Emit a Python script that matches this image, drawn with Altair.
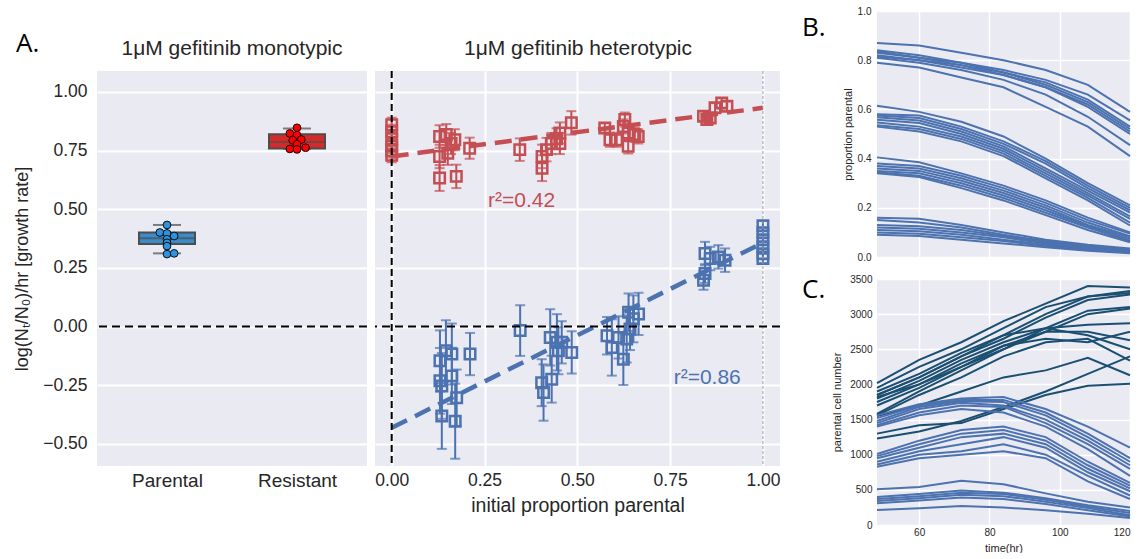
import altair as alt
import pandas as pd

# ---------------- data ----------------
categories = ["Parental", "Resistant"]
mono_q1 = [0.352, 0.759]
mono_q3 = [0.401, 0.820]
mono_median = [0.376, 0.787]
mono_whisk_lo = [0.312, 0.757]
mono_whisk_hi = [0.433, 0.844]

parental_pts = [0.433, 0.401, 0.397, 0.386, 0.372, 0.357, 0.343, 0.309, 0.312]
parental_dodge = [0, -1, 0, 1, 0, 0, 0, 0, 1]
resistant_pts = [0.847, 0.823, 0.816, 0.794, 0.797, 0.777, 0.757, 0.755, 0.762]
resistant_dodge = [0, -1, 0, -0.6, 0.6, 0, -1, 0, 1.2]

red_x = [0, 0, 0, 0, 0, 0,
         0.129, 0.129, 0.147, 0.16, 0.17, 0.129, 0.174, 0.151, 0.21,
         0.345,
         0.405, 0.405, 0.417, 0.43, 0.444, 0.453, 0.453, 0.484,
         0.574, 0.588, 0.606, 0.628, 0.637, 0.637, 0.655, 0.664, 0.624,
         0.84, 0.858, 0.871, 0.889, 0.903, 0.849]
red_y = [0.86, 0.83, 0.80, 0.77, 0.75, 0.73,
         0.81, 0.725, 0.818, 0.78, 0.796, 0.633, 0.64, 0.739, 0.76,
         0.754,
         0.725, 0.675, 0.754, 0.78, 0.80, 0.78, 0.825, 0.868,
         0.846, 0.796, 0.796, 0.882, 0.825, 0.768, 0.818, 0.81, 0.853,
         0.896, 0.889, 0.932, 0.953, 0.939, 0.882]
red_err = [0.03, 0.03, 0.03, 0.03, 0.03, 0.03,
           0.048, 0.05, 0.045, 0.045, 0.045, 0.055, 0.05, 0.05, 0.045,
           0.048,
           0.05, 0.055, 0.05, 0.045, 0.045, 0.045, 0.045, 0.05,
           0.02, 0.03, 0.03, 0.03, 0.03, 0.03, 0.03, 0.03, 0.03,
           0.02, 0.02, 0.02, 0.02, 0.02, 0.02]

blue_x = [0.146, 0.162, 0.130, 0.130, 0.135, 0.162, 0.175, 0.135, 0.171, 0.211,
          0.346,
          0.404, 0.409, 0.427, 0.431, 0.445, 0.449, 0.458, 0.485,
          0.58, 0.593, 0.611, 0.624, 0.633, 0.642, 0.651, 0.665, 0.638,
          0.844, 0.858, 0.88, 0.898, 0.844, 0.84,
          1, 1, 1, 1, 1, 1]
blue_y = [-0.103, -0.117, -0.146, -0.231, -0.253, -0.21, -0.303, -0.381, -0.403, -0.117,
          -0.017,
          -0.239, -0.281, -0.046, -0.224, -0.067, -0.103, -0.067, -0.11,
          -0.039, -0.089, -0.046, -0.139, -0.053, -0.01, 0.033, 0.054, 0.061,
          0.311, 0.29, 0.297, 0.283, 0.226, 0.197,
          0.43, 0.40, 0.37, 0.34, 0.31, 0.29]
blue_err = [0.13, 0.13, 0.13, 0.14, 0.14, 0.12, 0.12, 0.14, 0.16, 0.09,
            0.108,
            0.1, 0.12, 0.12, 0.1, 0.12, 0.1, 0.09, 0.09,
            0.08, 0.12, 0.09, 0.11, 0.1, 0.09, 0.1, 0.09, 0.08,
            0.05, 0.05, 0.05, 0.05, 0.04, 0.04,
            0.02, 0.02, 0.02, 0.02, 0.02, 0.02]

fit_x = [0, 1]
red_fit = [0.725, 0.932]
blue_fit = [-0.431, 0.357]
r2_labels = ["r²=0.42", "r²=0.86"]

times = [48, 60, 72, 84, 96, 108, 120]
prop_lines = [
    [0.87, 0.86, 0.83, 0.80, 0.76, 0.70, 0.59],
    [0.84, 0.82, 0.79, 0.76, 0.72, 0.66, 0.555],
    [0.835, 0.81, 0.79, 0.75, 0.71, 0.64, 0.53],
    [0.83, 0.81, 0.78, 0.75, 0.70, 0.63, 0.52],
    [0.82, 0.80, 0.78, 0.74, 0.69, 0.62, 0.51],
    [0.815, 0.80, 0.77, 0.74, 0.69, 0.61, 0.50],
    [0.81, 0.79, 0.76, 0.72, 0.66, 0.57, 0.455],
    [0.79, 0.77, 0.73, 0.69, 0.61, 0.53, 0.41],
    [0.615, 0.59, 0.55, 0.49, 0.40, 0.30, 0.21],
    [0.58, 0.575, 0.53, 0.47, 0.39, 0.29, 0.20],
    [0.575, 0.565, 0.52, 0.46, 0.38, 0.28, 0.19],
    [0.568, 0.555, 0.51, 0.45, 0.36, 0.27, 0.18],
    [0.558, 0.545, 0.50, 0.44, 0.35, 0.26, 0.165],
    [0.547, 0.53, 0.49, 0.43, 0.34, 0.25, 0.155],
    [0.536, 0.52, 0.48, 0.42, 0.33, 0.24, 0.14],
    [0.53, 0.51, 0.47, 0.41, 0.32, 0.23, 0.128],
    [0.405, 0.385, 0.34, 0.29, 0.23, 0.16, 0.10],
    [0.38, 0.37, 0.33, 0.28, 0.22, 0.15, 0.095],
    [0.37, 0.36, 0.32, 0.27, 0.21, 0.14, 0.085],
    [0.36, 0.35, 0.31, 0.26, 0.20, 0.13, 0.08],
    [0.35, 0.34, 0.30, 0.25, 0.19, 0.125, 0.072],
    [0.345, 0.33, 0.29, 0.24, 0.18, 0.12, 0.065],
    [0.34, 0.325, 0.28, 0.23, 0.17, 0.11, 0.06],
    [0.16, 0.155, 0.13, 0.10, 0.07, 0.05, 0.035],
    [0.15, 0.14, 0.12, 0.09, 0.065, 0.045, 0.03],
    [0.13, 0.125, 0.11, 0.085, 0.06, 0.04, 0.025],
    [0.12, 0.115, 0.10, 0.08, 0.055, 0.035, 0.022],
    [0.11, 0.105, 0.09, 0.07, 0.05, 0.03, 0.02],
    [0.10, 0.095, 0.08, 0.065, 0.045, 0.028, 0.018],
    [0.09, 0.085, 0.07, 0.055, 0.04, 0.025, 0.015],
]

count_lines_high = [
    [2020, 2350, 2600, 2900, 3150, 3400, 3380],
    [1950, 2250, 2500, 2800, 3100, 3250, 3330],
    [1900, 2150, 2450, 2700, 3000, 3250, 3300],
    [1850, 2100, 2400, 2650, 2950, 3200, 3280],
    [1800, 2050, 2350, 2600, 2800, 3050, 3100],
    [1750, 2000, 2250, 2550, 2750, 3000, 3080],
    [1700, 1950, 2250, 2500, 2800, 2850, 2870],
    [1850, 2100, 2400, 2700, 2800, 2700, 2500],
    [1580, 1900, 2200, 2500, 2750, 2750, 2630],
    [1560, 1850, 2100, 2400, 2600, 2650, 2340],
    [1820, 2000, 2300, 2550, 2650, 2600, 2750],
    [1550, 1700, 1900, 2100, 2200, 2380, 2130],
    [1300, 1420, 1450, 1650, 1850, 1980, 2010],
    [1230, 1330, 1480, 1680, 1900, 2150, 2400],
]
count_lines_low = [
    [1560, 1720, 1800, 1820, 1650, 1400, 1100],
    [1520, 1700, 1780, 1780, 1600, 1300, 950],
    [1480, 1680, 1760, 1750, 1560, 1250, 900],
    [1450, 1650, 1740, 1700, 1500, 1200, 850],
    [1420, 1600, 1700, 1680, 1450, 1150, 800],
    [1400, 1560, 1650, 1600, 1400, 1080, 700],
    [1010, 1200, 1350, 1400, 1250, 900, 600],
    [980, 1150, 1300, 1350, 1200, 850, 560],
    [950, 1100, 1250, 1300, 1150, 800, 520],
    [900, 1050, 1150, 1250, 1100, 750, 480],
    [860, 1000, 1050, 1150, 1000, 700, 420],
    [830, 950, 1000, 1050, 950, 620, 370],
    [510, 540, 630, 580, 450, 330, 250],
    [400, 440, 490, 460, 380, 280, 200],
    [370, 410, 460, 440, 360, 260, 170],
    [340, 380, 430, 410, 330, 240, 140],
    [310, 350, 390, 370, 300, 210, 120],
    [215, 240, 270, 250, 210, 160, 100],
]

# ---------------- styling ----------------
FONT = "Liberation Sans"
TXT = "#262626"
BG = "#EAEAF2"
RED = "#C44E52"
BLUE = "#4C72B0"
DARK = "#1B4F72"
BOX_COLORS = ["#3A8BC8", "#D62A2A"]
PT_COLORS = ["#2F92DD", "#FF0000"]
EDGE = "#4d4d4d"

W_AL, W_AR, H_A = 270, 405, 395
W_B, H_B = 253, 246

y_dom = [-0.594, 1.089]
y_ticks = [-0.5, -0.25, 0, 0.25, 0.5, 0.75, 1.0]
one = pd.DataFrame({"a": [0]})

# ---------------- panel A left ----------------
label_expr = f"datum.value < 0.5 ? '{categories[0]}' : '{categories[1]}'"


def XL(field):
    return alt.X(field, type="quantitative",
                 scale=alt.Scale(domain=[-0.5, 1.5], nice=False),
                 axis=alt.Axis(values=[0, 1], labelExpr=label_expr, grid=False, title=None,
                               labelFontSize=19, labelPadding=5))


def YA(field, labels=True):
    return alt.Y(field, type="quantitative", scale=alt.Scale(domain=y_dom, nice=False),
                 axis=alt.Axis(values=y_ticks, format=".2f", labels=labels, grid=True,
                               gridWidth=2, labelFontSize=17.5, labelPadding=10,
                               title="log(Nₜ/N₀)/hr [growth rate]" if labels else None,
                               titleFontSize=18, titlePadding=11))


a_left_layers = []
for i, cat in enumerate(categories):
    box = pd.DataFrame({"pos": [i], "q1": [mono_q1[i]], "q3": [mono_q3[i]], "med": [mono_median[i]],
                        "lo": [mono_whisk_lo[i]], "hi": [mono_whisk_hi[i]]})
    vals, dodge = [(parental_pts, parental_dodge), (resistant_pts, resistant_dodge)][i]
    pts = pd.DataFrame({"pos": [i + d * 0.055 for d in dodge], "v": vals})
    a_left_layers += [
        alt.Chart(box).mark_rule(color=EDGE, strokeWidth=2).encode(x=XL("pos"), y=YA("lo"), y2="hi"),
        alt.Chart(box).mark_tick(orient="horizontal", size=28, thickness=2, color=EDGE).encode(
            x=XL("pos"), y=YA("lo")),
        alt.Chart(box).mark_tick(orient="horizontal", size=28, thickness=2, color=EDGE).encode(
            x=XL("pos"), y=YA("hi")),
        alt.Chart(box).mark_bar(size=56, stroke=EDGE, strokeWidth=2, fill=BOX_COLORS[i]).encode(
            x=XL("pos"), y=YA("q1"), y2="q3"),
        alt.Chart(box).mark_tick(orient="horizontal", size=54, thickness=2, color=EDGE).encode(
            x=XL("pos"), y=YA("med")),
        alt.Chart(pts).mark_point(shape="circle", filled=True, size=60, fill=PT_COLORS[i],
                                  stroke="black", strokeWidth=0.9, opacity=1).encode(
            x=XL("pos"), y=YA("v")),
    ]

al_zero = alt.Chart(pd.DataFrame({"z": [0]})).mark_rule(color="black", strokeWidth=2,
                                                        strokeDash=[8, 5]).encode(y=YA("z"))
al_title = alt.Chart(one).mark_text(font=FONT, fontSize=21, color=TXT, baseline="middle").encode(
    x=alt.value(W_AL / 2), y=alt.value(-22), text=alt.value("1μM gefitinib monotypic"))
al_letter = alt.Chart(one).mark_text(font="Open Sans", fontSize=26, color="black", align="left",
                                     baseline="alphabetic").encode(
    x=alt.value(-81), y=alt.value(-19), text=alt.value("A."))

A_left = alt.layer(*a_left_layers, al_zero, al_title, al_letter).properties(width=W_AL, height=H_A)

# ---------------- panel A right ----------------


def XR(field=None, datum=None):
    kw = dict(type="quantitative", scale=alt.Scale(domain=[-0.045, 1.046], nice=False),
              axis=alt.Axis(values=[0, 0.25, 0.5, 0.75, 1.0], format=".2f", grid=True, gridWidth=2,
                            labelFontSize=17.5, labelPadding=5, title="initial proportion parental",
                            titleFontSize=19.5, titlePadding=8))
    if datum is not None:
        return alt.X(datum=datum, **kw)
    return alt.X(field, **kw)


def YR(field):
    return YA(field, labels=False)


a_right_layers = []
for xs, ys, es, col in [(red_x, red_y, red_err, RED), (blue_x, blue_y, blue_err, BLUE)]:
    d = pd.DataFrame({"x": xs, "y": ys, "err": es})
    d["lo"] = d["y"] - d["err"]
    d["hi"] = d["y"] + d["err"]
    a_right_layers += [
        alt.Chart(d).mark_rule(strokeWidth=2, color=col).encode(x=XR("x"), y=YR("lo"), y2="hi"),
        alt.Chart(d).mark_tick(orient="horizontal", size=10, thickness=2, color=col).encode(
            x=XR("x"), y=YR("lo")),
        alt.Chart(d).mark_tick(orient="horizontal", size=10, thickness=2, color=col).encode(
            x=XR("x"), y=YR("hi")),
        alt.Chart(d).mark_point(shape="square", filled=False, size=110, strokeWidth=2.5, color=col,
                                opacity=1).encode(x=XR("x"), y=YR("y")),
    ]
for fit, col in [(red_fit, RED), (blue_fit, BLUE)]:
    a_right_layers.append(
        alt.Chart(pd.DataFrame({"x": fit_x, "y": fit})).mark_line(
            strokeWidth=4.5, strokeDash=[17, 9], color=col).encode(x=XR("x"), y=YR("y")))

ar_v0 = alt.Chart(one).mark_rule(color="black", strokeWidth=2, strokeDash=[7, 4]).encode(x=XR(datum=0))
ar_v1 = alt.Chart(one).mark_rule(color="#9a9a9a", strokeWidth=1, strokeDash=[3, 2]).encode(x=XR(datum=1))
ar_zero = alt.Chart(pd.DataFrame({"z": [0]})).mark_rule(color="black", strokeWidth=2,
                                                        strokeDash=[8, 5]).encode(y=YR("z"))
ar_r2a = alt.Chart(pd.DataFrame({"x": [0.35], "y": [0.535], "t": [r2_labels[0]]})).mark_text(
    font=FONT, fontSize=21, color=RED).encode(x=XR("x"), y=YR("y"), text="t:N")
ar_r2b = alt.Chart(pd.DataFrame({"x": [0.85], "y": [-0.217], "t": [r2_labels[1]]})).mark_text(
    font=FONT, fontSize=21, color=BLUE).encode(x=XR("x"), y=YR("y"), text="t:N")
ar_title = alt.Chart(one).mark_text(font=FONT, fontSize=21, color=TXT, baseline="middle").encode(
    x=alt.value(203), y=alt.value(-22), text=alt.value("1μM gefitinib heterotypic"))

A_right = alt.layer(*a_right_layers, ar_v1, ar_zero, ar_v0, ar_r2a, ar_r2b,
                    ar_title).properties(width=W_AR, height=H_A)

# ---------------- panels B and C ----------------
rows = []
for i, vals in enumerate(prop_lines):
    for t, v in zip(times, vals):
        rows.append({"t": t, "v": v, "id": i})
prop_df = pd.DataFrame(rows)


def count_frame(lines):
    rr = []
    for i, vals in enumerate(lines):
        for t, v in zip(times, vals):
            rr.append({"t": t, "v": v, "id": i})
    return pd.DataFrame(rr)


high_df = count_frame(count_lines_high)
low_df = count_frame(count_lines_low)

x_time_b = alt.X("t:Q", scale=alt.Scale(domain=[48, 120], nice=False),
                 axis=alt.Axis(values=[60, 80, 100, 120], labels=False, grid=True, gridWidth=1.5,
                               title=None))
x_time_c = alt.X("t:Q", scale=alt.Scale(domain=[48, 120], nice=False),
                 axis=alt.Axis(values=[60, 80, 100, 120], grid=True, gridWidth=1.5, labelFontSize=10,
                               labelPadding=2, title="time(hr)", titleFontSize=11, titlePadding=5))
y_prop = alt.Y("v:Q", scale=alt.Scale(domain=[0, 1], nice=False),
               axis=alt.Axis(values=[0, 0.2, 0.4, 0.6, 0.8, 1.0], format=".1f", grid=True, gridWidth=1.5,
                             labelFontSize=10, labelPadding=6, title="proportion parental",
                             titleFontSize=11, titlePadding=4))
y_count = alt.Y("v:Q", scale=alt.Scale(domain=[0, 3500], nice=False),
                axis=alt.Axis(values=list(range(0, 3501, 500)), format="d", grid=True, gridWidth=1.5,
                              labelFontSize=10, labelPadding=5, title="parental cell number",
                              titleFontSize=11, titlePadding=7))

b_lines = alt.Chart(prop_df).mark_line(strokeWidth=2, color=BLUE).encode(
    x=x_time_b, y=y_prop, detail="id:N")
b_letter = alt.Chart(one).mark_text(font="Open Sans", fontSize=26, color="black", align="left",
                                    baseline="alphabetic").encode(
    x=alt.value(-75), y=alt.value(25), text=alt.value("B."))
B = alt.layer(b_lines, b_letter).properties(width=W_B, height=H_B)

c_high = alt.Chart(high_df).mark_line(strokeWidth=2, color=DARK).encode(
    x=x_time_c, y=y_count, detail="id:N")
c_low = alt.Chart(low_df).mark_line(strokeWidth=2, color=BLUE).encode(
    x=x_time_c, y=y_count, detail="id:N")
c_letter = alt.Chart(one).mark_text(font="Open Sans", fontSize=26, color="black", align="left",
                                    baseline="alphabetic").encode(
    x=alt.value(-75), y=alt.value(19), text=alt.value("C."))
C = alt.layer(c_high, c_low, c_letter).properties(width=W_B, height=H_B)

spacer = alt.Chart(one).mark_rule(opacity=0).encode(
    x=alt.value(0), x2=alt.value(1), y=alt.value(0)
).properties(width=1, height=1, view=alt.ViewBackground(fill="white", strokeWidth=0))

left = alt.vconcat(spacer, alt.hconcat(A_left, A_right, spacing=6), spacing=19)
right = alt.vconcat(B, C, spacing=12)

chart = alt.hconcat(left, right, spacing=21).properties(
    padding={"left": 13, "top": 6, "right": 0, "bottom": 0},
    background="white",
).configure_view(fill=BG, strokeWidth=0).configure_axis(
    gridColor="white", domain=False, ticks=False, labelColor=TXT, titleColor=TXT,
    labelFont=FONT, titleFont=FONT, titleFontWeight="normal")

chart.save("out.html", embed_options={"renderer": "svg", "actions": False})
